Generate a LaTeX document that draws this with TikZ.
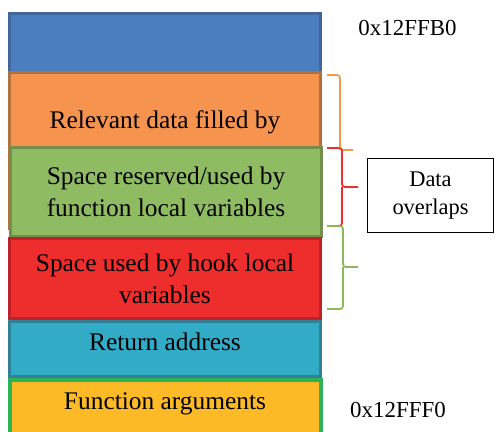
\documentclass[tikz,border=0pt]{standalone}
\usepackage{fontspec}
\setmainfont{Liberation Serif}

\definecolor{cblue}{HTML}{4A7EBF}
\definecolor{cblueb}{HTML}{41679A}
\definecolor{corange}{HTML}{F5934F}
\definecolor{coranged}{HTML}{B1703D}
\definecolor{cgreen}{HTML}{8FBC62}
\definecolor{cgreenb}{HTML}{728F4B}
\definecolor{cred}{HTML}{EE2D2D}
\definecolor{credb}{HTML}{BE2228}
\definecolor{ccyan}{HTML}{32ABC6}
\definecolor{ccyanb}{HTML}{337F98}
\definecolor{cyellow}{HTML}{FDBA27}
\definecolor{cyellowb}{HTML}{2DB357}
\definecolor{borange}{HTML}{F79646}
\definecolor{bgreen}{HTML}{8DB85A}

\begin{document}
\begin{tikzpicture}[x=1bp,y=-1bp,
    cell/.style={rectangle,minimum width=311bp,line width=3bp,inner sep=0pt},
    celltext/.style={font=\fontsize{25.5}{32}\selectfont,align=center},
    addr/.style={font=\fontsize{23}{28}\selectfont,anchor=base},
    brace/.style={line width=1.8bp,rounded corners=3bp}]
    \useasboundingbox (0,0) rectangle (496,431);
    \clip (0,0) rectangle (496,431);
    % marco de pila, de arriba abajo
    \node[cell,fill=cblue,draw=cblueb,minimum height=59bp] (top) at (165,42.5) {};
    \node[cell,fill=corange,draw=coranged,minimum height=156bp] (relevant) at (165,150) {};
    \node[celltext] (relevanttxt) at (165,122) {Relevant data filled by};
    % la zona de la funcion tapa parte de la anterior
    \node[cell,fill=cgreen,draw=cgreenb,minimum height=89bp,celltext] (funclocal) at (166,192)
      {Space reserved/used by\\function local variables};
    \node[cell,fill=cred,draw=credb,minimum height=80bp,celltext] (hooklocal) at (165,278.5)
      {Space used by hook local\\variables};
    % argumentos debajo, cortados por el borde inferior
    \node[cell,fill=cyellow,draw=cyellowb,line width=4bp,minimum height=70bp] (args) at (165.5,415) {};
    \node[cell,fill=ccyan,draw=ccyanb,minimum height=55bp] (retaddr) at (165,349) {};
    \node[celltext] (retaddrtxt) at (165,341.5) {Return address};
    \node[celltext] (argstxt) at (165,404) {Function arguments};
    % direcciones
    \node[addr] (hiaddr) at (407.5,35) {0x12FFB0};
    \node[addr] (loaddr) at (398,417) {0x12FFF0};
    % llaves a la derecha de la pila
    \draw[brace,borange] (327,75) -| (340,150) -- (353,150);
    \draw[brace,cred] (327,148) -| (342,187) -- (358,187);
    \draw[brace,cred] (342,187) |- (327,226);
    \draw[brace,bgreen] (327,226) -| (343,267) -- (358,267);
    \draw[brace,bgreen] (343,267) |- (327,309);
    % cuadro de nota
    \node[draw=black,line width=1.5bp,minimum width=126bp,minimum height=74bp,
      font=\fontsize{22.5}{28}\selectfont,align=center] (overlap) at (430.5,195.5) {Data\\overlaps};
\end{tikzpicture}
\end{document}
